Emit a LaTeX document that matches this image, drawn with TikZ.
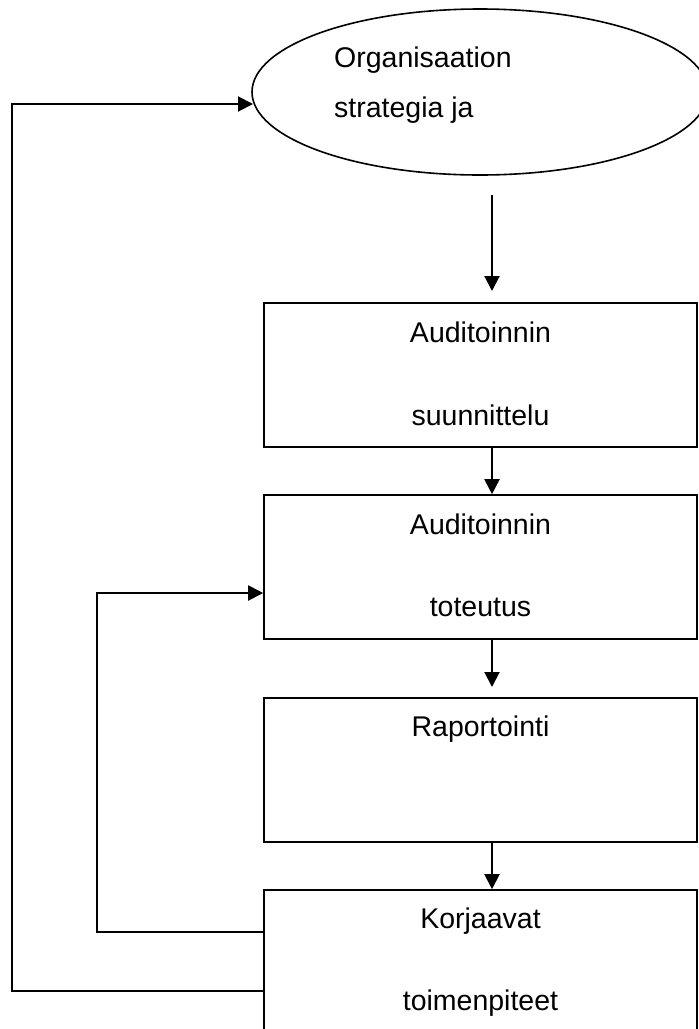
\documentclass[tikz,border=0pt]{standalone}
\usepackage{fontspec}
\setmainfont{Liberation Sans}
\usetikzlibrary{shapes.geometric,arrows.meta}
\tikzset{
  stepbox/.style={draw, line width=1.6pt, rectangle, minimum width=433pt, minimum height=144pt, inner sep=0pt},
  oval/.style={draw, line width=1.6pt, ellipse, minimum width=456pt, minimum height=166pt, inner sep=0pt},
  lbl/.style={inner sep=0pt, font=\fontsize{28.5}{34}\selectfont},
  conn/.style={line width=2pt, -{Triangle[length=15pt,width=15pt]}},
}
\begin{document}
\begin{tikzpicture}[x=1pt,y=-1pt]
\useasboundingbox (0,0) rectangle (699,1029);
\clip (0,0) rectangle (699,1029);
% ellipse
\node[oval] (ell) at (480,92) {};
\node[lbl, anchor=base west] (t1) at (334,67) {Organisaation};
\node[lbl, anchor=base west] (t2) at (334,117) {strategia ja};
% boxes
\node[stepbox] (b1) at (480.5,375) {};
\node[stepbox] (b2) at (480.5,567) {};
\node[stepbox] (b3) at (480.5,770) {};
\node[stepbox] (b4) at (480.5,962) {};
\node[lbl, anchor=base] (b1a) at (480.5,342) {Auditoinnin};
\node[lbl, anchor=base] (b1b) at (480.5,425) {suunnittelu};
\node[lbl, anchor=base] (b2a) at (480.5,534) {Auditoinnin};
\node[lbl, anchor=base] (b2b) at (480.5,616) {toteutus};
\node[lbl, anchor=base] (b3a) at (480.5,736) {Raportointi};
\node[lbl, anchor=base] (b4a) at (480.5,928) {Korjaavat};
\node[lbl, anchor=base] (b4b) at (480.5,1010) {toimenpiteet};
% connectors
\coordinate (s0) at (492,195);
\coordinate (e1) at (492,291);
\coordinate (e3) at (492,687);
\coordinate (eIn) at (253,104);
\draw[conn] (s0) -- (e1);
\draw[conn] (s0 |- b1.south) -- (s0 |- b2.north);
\draw[conn] (s0 |- b2.south) -- (e3);
\draw[conn] (s0 |- b3.south) -- (s0 |- b4.north);
% outer loop
\coordinate (o1) at (264,991);
\coordinate (o2) at (12,991);
\coordinate (o3) at (12,104);
\draw[conn] (b4.west |- o1) -- (o2) -- (o3) -- (eIn);
% inner loop
\coordinate (i1) at (264,932);
\coordinate (i2) at (97,932);
\coordinate (i3) at (97,593);
\draw[conn] (b4.west |- i1) -- (i2) -- (i3) -- (b2.west |- i3);
\end{tikzpicture}
\end{document}
